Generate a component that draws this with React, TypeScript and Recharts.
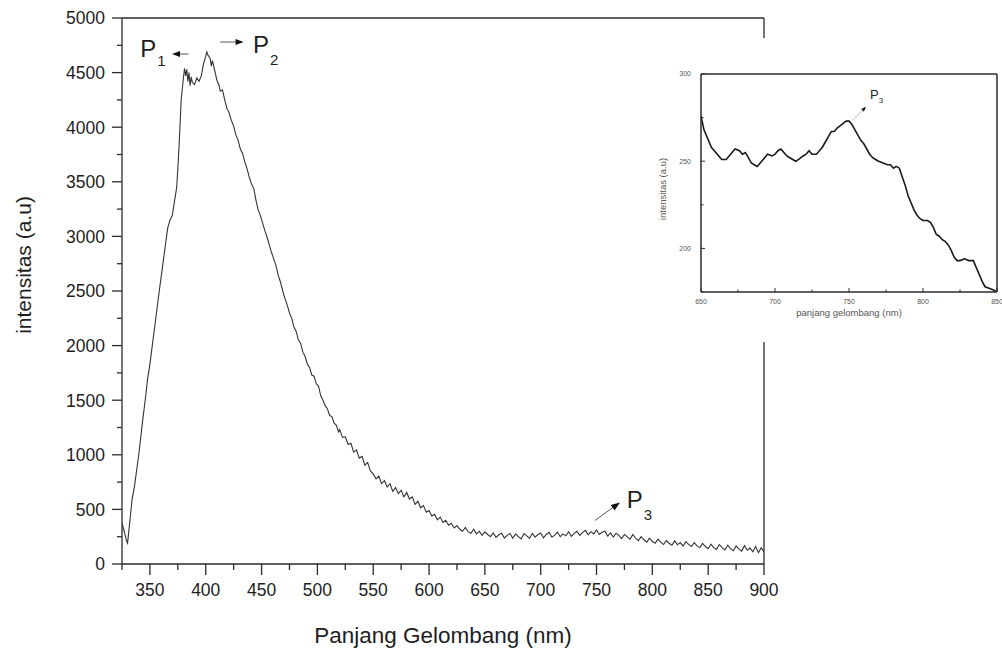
import {
  LineChart,
  Line,
  XAxis,
  YAxis,
  ReferenceLine,
  ReferenceDot,
  Label,
} from "recharts";

// spektrum utama: [panjang gelombang (nm), intensitas (a.u)]
const mainSpectrum: [number, number][] = [
  [325, 375], [327, 300], [329, 215], [330, 192], [332, 390], [334, 590], [336, 700], [338, 850],
  [340, 1000], [343, 1270], [346, 1520], [348, 1700], [350, 1830], [352, 1990], [355, 2230],
  [358, 2470], [361, 2700], [364, 2930], [366, 3080], [368, 3150], [370, 3190], [372, 3320],
  [374, 3450], [376, 3800], [378, 4250], [380, 4450], [381, 4540], [382, 4470], [383, 4530],
  [384, 4420], [385, 4500], [386, 4380], [387, 4460], [388, 4410], [390, 4390], [392, 4450],
  [394, 4420], [396, 4470], [398, 4580], [400, 4650], [401, 4690], [402, 4660], [404, 4630],
  [405, 4560], [406, 4610], [408, 4520], [410, 4430], [412, 4380], [413, 4330], [415, 4340],
  [417, 4250], [419, 4170], [421, 4130], [423, 4060], [425, 4010], [427, 3930], [429, 3880],
  [431, 3800], [433, 3760], [435, 3680], [437, 3620], [439, 3540], [441, 3480], [443, 3440],
  [445, 3330], [447, 3240], [449, 3190], [451, 3120], [453, 3050], [455, 2990], [457, 2920],
  [459, 2850], [461, 2790], [463, 2730], [465, 2640], [467, 2580], [469, 2500], [471, 2430],
  [473, 2370], [475, 2300], [477, 2250], [479, 2170], [481, 2130], [483, 2050], [485, 2020],
  [487, 1940], [489, 1900], [491, 1830], [493, 1800], [495, 1730], [497, 1720], [499, 1650],
  [501, 1630], [503, 1540], [505, 1500], [507, 1450], [509, 1420], [511, 1360], [513, 1350],
  [515, 1290], [517, 1270], [519, 1210],
  [520, 1230], [522.5, 1160], [525, 1165], [527.5, 1095], [530, 1105], [532.5, 1025], [535, 1045],
  [537.5, 970], [540, 985], [542.5, 905], [545, 930], [547.5, 850], [550, 825], [552.5, 780],
  [555, 805], [557.5, 735], [560, 765], [562.5, 705], [565, 735], [567.5, 665], [570, 700],
  [572.5, 645], [575, 675], [577.5, 615], [580, 655], [582.5, 595], [585, 615], [587.5, 545],
  [590, 575], [592.5, 515], [595, 535], [597.5, 475], [600, 490], [602.5, 440], [605, 455],
  [607.5, 405], [610, 430], [612.5, 380], [615, 400], [617.5, 355],
  [620, 372], [622.5, 330], [625, 352], [627.5, 318], [630, 300], [632.5, 335], [635, 296],
  [637.5, 282], [640, 318], [642.5, 276], [645, 300], [647.5, 262], [650, 294], [652.5, 270],
  [655, 250], [657.5, 284], [660, 244], [662.5, 268], [665, 282], [667.5, 238], [670, 262],
  [672.5, 280], [675, 236], [677.5, 276], [680, 250], [682.5, 230], [685, 278], [687.5, 258],
  [690, 236], [692.5, 280], [695, 246], [697.5, 270], [700, 284], [702.5, 240], [705, 270],
  [707.5, 290], [710, 248], [712.5, 262], [715, 292], [717.5, 250], [720, 276], [722.5, 258],
  [725, 296], [727.5, 254], [730, 280], [732.5, 300], [735, 262], [737.5, 288], [740, 308],
  [742.5, 270], [745, 296], [747.5, 276], [750, 312], [752.5, 270], [755, 290], [757.5, 300],
  [760, 256], [762.5, 284], [765, 246], [767.5, 282], [770, 262], [772.5, 232], [775, 270],
  [777.5, 248], [780, 228], [782.5, 270], [785, 236], [787.5, 214], [790, 250], [792.5, 222],
  [795, 200], [797.5, 236], [800, 206], [802.5, 190], [805, 228], [807.5, 200], [810, 178],
  [812.5, 214], [815, 190], [817.5, 172], [820, 212], [822.5, 176], [825, 196], [827.5, 164],
  [830, 204], [832.5, 180], [835, 160], [837.5, 196], [840, 166], [842.5, 150], [845, 188],
  [847.5, 160], [850, 140], [852.5, 182], [855, 150], [857.5, 134], [860, 178], [862.5, 150],
  [865, 128], [867.5, 172], [870, 140], [872.5, 122], [875, 166], [877.5, 138], [880, 118],
  [882.5, 168], [885, 126], [887.5, 146], [890, 112], [892.5, 160], [895, 104], [897.5, 148],
  [900, 110],
];

// inset: perbesaran daerah 650-850 nm
const insetSpectrum: [number, number][] = [
  [650, 276], [652, 268], [655, 262], [657, 258], [660, 255], [662, 253], [664, 251], [667, 251],
  [670, 254], [673, 257], [676, 256], [678, 254], [680, 255], [682, 252], [684, 249], [686, 248],
  [688, 247], [691, 250], [693, 252], [695, 254], [698, 253], [700, 254], [702, 256], [704, 257],
  [706, 255], [708, 253], [710, 252], [712, 251], [714, 250], [716, 251], [719, 253], [721, 254],
  [723, 256], [725, 254], [728, 254], [730, 256], [732, 258], [734, 261], [736, 264], [738, 267],
  [740, 267], [742, 269], [745, 271], [748, 273], [750, 273], [752, 271], [754, 268], [756, 265],
  [758, 262], [760, 260], [762, 257], [764, 254], [766, 252], [768, 251], [770, 250], [773, 249],
  [776, 248], [778, 248], [780, 246], [782, 247], [784, 246], [786, 241], [788, 236], [790, 230],
  [792, 226], [794, 222], [796, 219], [798, 217], [800, 216], [803, 216], [805, 215], [807, 212],
  [809, 208], [811, 207], [813, 205], [815, 204], [817, 202], [819, 199], [821, 195], [823, 193],
  [825, 193], [828, 194], [831, 193], [834, 193], [836, 189], [838, 185], [840, 181], [842, 178],
  [845, 177], [848, 176], [850, 175],
];

const mainXTicks = [325, 350, 375, 400, 425, 450, 475, 500, 525, 550, 575, 600, 625, 650, 675, 700, 725, 750, 775, 800, 825, 850, 875, 900];
const mainYTicks = [0, 250, 500, 750, 1000, 1250, 1500, 1750, 2000, 2250, 2500, 2750, 3000, 3250, 3500, 3750, 4000, 4250, 4500, 4750, 5000];
const insetXTicks = [650, 675, 700, 725, 750, 775, 800, 825, 850];
const insetYTicks = [175, 200, 225, 250, 275, 300];

const AXIS = "#2b2b2b";
const TEXT = "#1e1e1e";
const FONT = "'Liberation Sans', Arial, Helvetica, sans-serif";

function MainXTick({ x, y, payload }: any) {
  const major = payload.value % 50 === 0;
  return (
    <g>
      <line x1={x} x2={x} y1={y} y2={y + (major ? 11 : 6)} stroke={AXIS} strokeWidth={1.3} />
      {major && (
        <text x={x} y={y + 32} textAnchor="middle" fontSize={17.5} fill={TEXT}>
          {payload.value}
        </text>
      )}
    </g>
  );
}

function MainYTick({ x, y, payload }: any) {
  const major = payload.value % 500 === 0;
  return (
    <g>
      <line x1={x - (major ? 10 : 5)} x2={x} y1={y} y2={y} stroke={AXIS} strokeWidth={1.3} />
      {major && (
        <text x={x - 17} y={y} dy="0.36em" textAnchor="end" fontSize={17.5} fill={TEXT}>
          {payload.value}
        </text>
      )}
    </g>
  );
}

function InsetXTick({ x, y, payload }: any) {
  const major = payload.value % 50 === 0;
  return (
    <g>
      <line x1={x} x2={x} y1={y} y2={y - (major ? 4 : 2.5)} stroke={AXIS} strokeWidth={1} />
      {major && (
        <text x={x} y={y + 12} textAnchor="middle" fontSize={7} fill="#555">
          {payload.value}
        </text>
      )}
    </g>
  );
}

function InsetYTick({ x, y, payload }: any) {
  const major = payload.value % 50 === 0;
  return (
    <g>
      <line x1={x} x2={x + (major ? 4 : 2.5)} y1={y} y2={y} stroke={AXIS} strokeWidth={1} />
      {major && (
        <text x={x - 10} y={y} dy="0.35em" textAnchor="end" fontSize={7} fill="#555">
          {payload.value}
        </text>
      )}
    </g>
  );
}

// panah anotasi, kepala di titik kedua segmen
function arrowShape(head: number, color: string, width: number) {
  return (p: any) => {
    const { x1, y1, x2, y2 } = p;
    const a = Math.atan2(y2 - y1, x2 - x1);
    const bx = x2 - head * Math.cos(a);
    const by = y2 - head * Math.sin(a);
    const w = head * 0.38;
    const pts = `${x2},${y2} ${bx - w * Math.sin(a)},${by + w * Math.cos(a)} ${bx + w * Math.sin(a)},${by - w * Math.cos(a)}`;
    return (
      <g>
        <line x1={x1} y1={y1} x2={bx} y2={by} stroke={color} strokeWidth={width} />
        <polygon points={pts} fill="#111" />
      </g>
    );
  };
}

function peakLabel(sub: string, size: number, subSize: number, subDx: number, subDy: number) {
  return (p: any) => (
    <text x={p.cx} y={p.cy} fontSize={size} fill={TEXT}>
      P
      <tspan dx={subDx} dy={subDy} fontSize={subSize}>
        {sub}
      </tspan>
    </text>
  );
}

export default function App() {
  const mainData = mainSpectrum.map(([w, v]) => ({ w, v }));
  const insetData = insetSpectrum.map(([w, v]) => ({ w, v }));

  return (
    <div
      style={{
        position: "absolute",
        left: 0,
        top: 0,
        width: 1002,
        height: 650,
        background: "#fff",
        fontFamily: FONT,
      }}
    >
      <LineChart width={1002} height={650} data={mainData} margin={{ top: 18, right: 238, bottom: 0, left: 0 }}>
        <XAxis
          dataKey="w"
          type="number"
          domain={[325, 900]}
          ticks={mainXTicks}
          interval={0}
          height={86}
          tickSize={0}
          tickMargin={0}
          tickLine={false}
          tick={MainXTick}
          axisLine={{ stroke: AXIS, strokeWidth: 1.3 }}
          allowDataOverflow
        >
          <Label
            content={({ viewBox }: any) => (
              <text x={viewBox.x + viewBox.width / 2} y={viewBox.y + 79} textAnchor="middle" fontSize={22.5} fill={TEXT}>
                Panjang Gelombang (nm)
              </text>
            )}
          />
        </XAxis>
        <YAxis
          type="number"
          domain={[0, 5000]}
          ticks={mainYTicks}
          interval={0}
          width={122}
          tickSize={0}
          tickMargin={0}
          tickLine={false}
          tick={MainYTick}
          axisLine={{ stroke: AXIS, strokeWidth: 1.3 }}
          allowDataOverflow
        >
          <Label
            content={() => (
              <text x={24} y={265} transform="rotate(-90, 24, 265)" dy="0.35em" textAnchor="middle" fontSize={21} fill={TEXT}>
                intensitas (a.u)
              </text>
            )}
          />
        </YAxis>
        <ReferenceLine y={5000} stroke={AXIS} strokeWidth={1.3} />
        <ReferenceLine x={900} stroke={AXIS} strokeWidth={1.3} />
        <Line
          type="linear"
          dataKey="v"
          stroke="#333"
          strokeWidth={1.1}
          dot={false}
          activeDot={false}
          isAnimationActive={false}
        />
        <ReferenceLine segment={[{ x: 384.6, y: 4670 }, { x: 369.8, y: 4670 }]} shape={arrowShape(8, "#555", 1)} />
        <ReferenceLine segment={[{ x: 413, y: 4780 }, { x: 433.9, y: 4780 }]} shape={arrowShape(8, "#555", 1)} />
        <ReferenceLine segment={[{ x: 748.6, y: 399 }, { x: 771, y: 564 }]} shape={arrowShape(9, "#555", 1)} />
        <ReferenceDot x={341.4} y={4646} r={0} shape={peakLabel("1", 24, 15, 1, 9)} />
        <ReferenceDot x={442.3} y={4679} r={0} shape={peakLabel("2", 24, 15, 1, 12)} />
        <ReferenceDot x={777.1} y={515} r={0} shape={peakLabel("3", 24, 15, 1, 12)} />
      </LineChart>

      <div
        style={{
          position: "absolute",
          left: 640,
          top: 38,
          width: 362,
          height: 304,
          background: "#fff",
        }}
      >
        <LineChart width={362} height={304} data={insetData} margin={{ top: 36, right: 5, bottom: 0, left: 0 }}>
          <XAxis
            dataKey="w"
            type="number"
            domain={[650, 850]}
            ticks={insetXTicks}
            interval={0}
            height={50}
            tickSize={0}
            tickMargin={0}
            tickLine={false}
            tick={InsetXTick}
            axisLine={{ stroke: AXIS, strokeWidth: 1.5 }}
            allowDataOverflow
          >
            <Label
              content={({ viewBox }: any) => (
                <text x={viewBox.x + viewBox.width / 2} y={viewBox.y + 24} textAnchor="middle" fontSize={9.5} fill="#555">
                  panjang gelombang (nm)
                </text>
              )}
            />
          </XAxis>
          <YAxis
            type="number"
            domain={[175, 300]}
            ticks={insetYTicks}
            interval={0}
            width={61}
            tickSize={0}
            tickMargin={0}
            tickLine={false}
            tick={InsetYTick}
            axisLine={{ stroke: AXIS, strokeWidth: 1.5 }}
            allowDataOverflow
          >
            <Label
              content={() => (
                <text x={23} y={151} transform="rotate(-90, 23, 151)" dy="0.35em" textAnchor="middle" fontSize={9.5} fill="#555">
                  intensitas (a.u)
                </text>
              )}
            />
          </YAxis>
          <ReferenceLine y={300} stroke={AXIS} strokeWidth={1.5} />
          <ReferenceLine x={850} stroke={AXIS} strokeWidth={1.5} />
          <Line
            type="linear"
            dataKey="v"
            stroke="#1a1a1a"
            strokeWidth={1.6}
            dot={false}
            activeDot={false}
            isAnimationActive={false}
          />
          <ReferenceLine segment={[{ x: 752.7, y: 273.6 }, { x: 761.5, y: 281.2 }]} shape={arrowShape(5, "#aaa", 0.8)} />
          <ReferenceDot x={764.2} y={285.5} r={0} shape={peakLabel("3", 13, 8, 0, 4)} />
        </LineChart>
      </div>
    </div>
  );
}
